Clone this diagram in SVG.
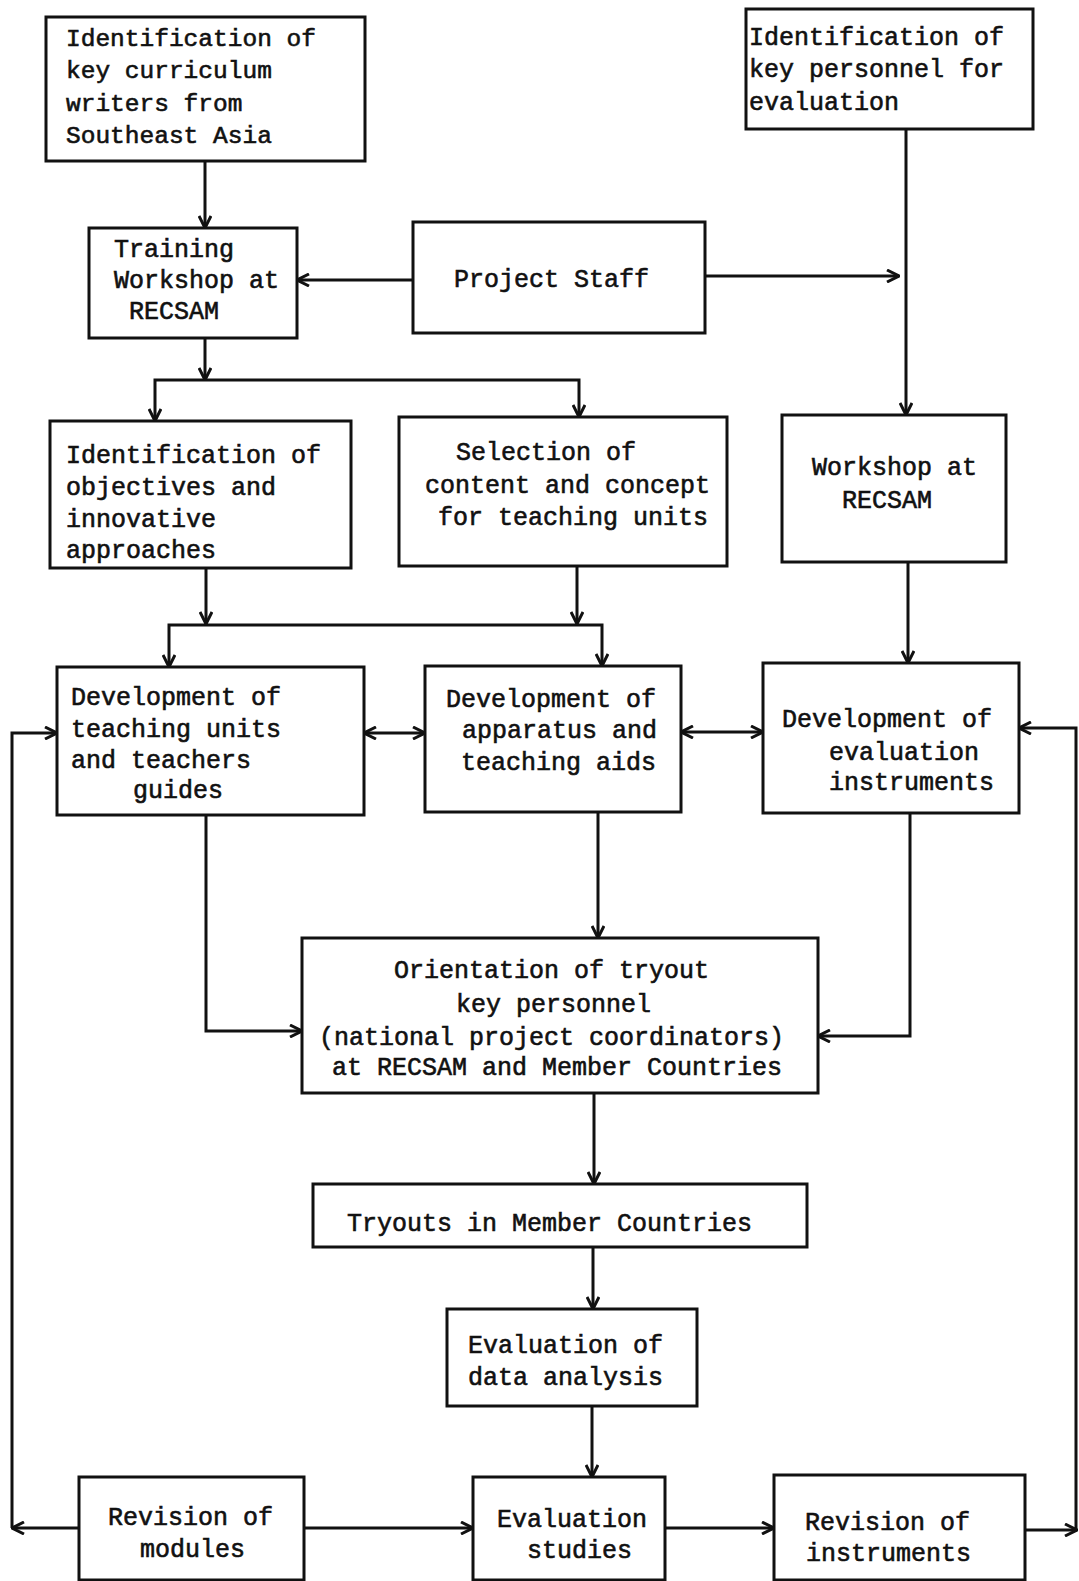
<svg xmlns="http://www.w3.org/2000/svg" width="1079" height="1581" viewBox="0 0 1079 1581">
<style>
.box{fill:#fff;stroke:#111;stroke-width:3}
.t{font-family:"Liberation Mono","DejaVu Sans Mono",monospace;font-size:25px;fill:#111;stroke:#111;stroke-width:0.6}
.c{fill:none;stroke:#111;stroke-width:3}
.a{marker-end:url(#ah)}
.d{marker-start:url(#ah);marker-end:url(#ah)}
</style>
<defs>
<marker id="ah" markerUnits="userSpaceOnUse" viewBox="0 0 14 14" refX="13" refY="7" markerWidth="14" markerHeight="14" orient="auto-start-reverse">
<path d="M1,1 L13,7 L1,13" fill="none" stroke="#111" stroke-width="3"/>
</marker>
</defs>
<rect width="1079" height="1581" fill="#fff"/>
<g id="connectors">
<path class="c a" d="M205,161 V228"/>
<path class="c a" d="M413,280 H297"/>
<path class="c a" d="M705,276 H899"/>
<path class="c a" d="M906,129 V415"/>
<path class="c a" d="M205,338 V380"/>
<path class="c a" d="M205,380 H155 V421"/>
<path class="c a" d="M205,380 H579 V417"/>
<path class="c a" d="M206,568 V624"/>
<path class="c a" d="M577,566 V624"/>
<path class="c a" d="M206,625 H169 V667"/>
<path class="c a" d="M577,625 H602 V666"/>
<path class="c" d="M206,625 H577"/>
<path class="c a" d="M908,562 V663"/>
<path class="c d" d="M364,733 H425"/>
<path class="c d" d="M681,732 H763"/>
<path class="c a" d="M206,815 V1031 H302"/>
<path class="c a" d="M598,812 V938"/>
<path class="c a" d="M910,813 V1036 H818"/>
<path class="c a" d="M594,1093 V1184"/>
<path class="c a" d="M593,1247 V1309"/>
<path class="c a" d="M592,1406 V1477"/>
<path class="c a" d="M304,1528 H473"/>
<path class="c a" d="M665,1528 H774"/>
<path class="c a" d="M79,1528 H12"/>
<path class="c a" d="M12,1528 V733 H57"/>
<path class="c a" d="M1025,1530 H1077"/>
<path class="c a" d="M1076,1530 V728 H1019"/>
</g>
<g id="n1"><rect class="box" x="46" y="17" width="319" height="144"/>
<text class="t" x="66" y="46" style="font-size:24.5px">Identification of</text>
<text class="t" x="66" y="78" style="font-size:24.5px">key curriculum</text>
<text class="t" x="66" y="111" style="font-size:24.5px">writers from</text>
<text class="t" x="66" y="143" style="font-size:24.5px">Southeast Asia</text></g>
<g id="n2"><rect class="box" x="89" y="228" width="208" height="110"/>
<text class="t" x="114" y="257">Training</text>
<text class="t" x="114" y="288">Workshop at</text>
<text class="t" x="129" y="319">RECSAM</text></g>
<g id="n3"><rect class="box" x="413" y="222" width="292" height="111"/>
<text class="t" x="454" y="287">Project Staff</text></g>
<g id="n4"><rect class="box" x="746" y="9" width="287" height="120"/>
<text class="t" x="749" y="45">Identification of</text>
<text class="t" x="749" y="77">key personnel for</text>
<text class="t" x="749" y="110">evaluation</text></g>
<g id="n5"><rect class="box" x="50" y="421" width="301" height="147"/>
<text class="t" x="66" y="463">Identification of</text>
<text class="t" x="66" y="495">objectives and</text>
<text class="t" x="66" y="527">innovative</text>
<text class="t" x="66" y="558">approaches</text></g>
<g id="n6"><rect class="box" x="399" y="417" width="328" height="149"/>
<text class="t" x="456" y="460">Selection of</text>
<text class="t" x="425" y="493">content and concept</text>
<text class="t" x="438" y="525">for teaching units</text></g>
<g id="n7"><rect class="box" x="782" y="415" width="224" height="147"/>
<text class="t" x="812" y="475">Workshop at</text>
<text class="t" x="842" y="508">RECSAM</text></g>
<g id="n8"><rect class="box" x="57" y="667" width="307" height="148"/>
<text class="t" x="71" y="705">Development of</text>
<text class="t" x="71" y="737">teaching units</text>
<text class="t" x="71" y="768">and teachers</text>
<text class="t" x="133" y="798">guides</text></g>
<g id="n9"><rect class="box" x="425" y="666" width="256" height="146"/>
<text class="t" x="446" y="707">Development of</text>
<text class="t" x="462" y="738">apparatus and</text>
<text class="t" x="461" y="770">teaching aids</text></g>
<g id="n10"><rect class="box" x="763" y="663" width="256" height="150"/>
<text class="t" x="782" y="727">Development of</text>
<text class="t" x="829" y="760">evaluation</text>
<text class="t" x="829" y="790">instruments</text></g>
<g id="n11"><rect class="box" x="302" y="938" width="516" height="155"/>
<text class="t" x="394" y="978">Orientation of tryout</text>
<text class="t" x="456" y="1012">key personnel</text>
<text class="t" x="319" y="1045">(national project coordinators)</text>
<text class="t" x="332" y="1075">at RECSAM and Member Countries</text></g>
<g id="n12"><rect class="box" x="313" y="1184" width="494" height="63"/>
<text class="t" x="347" y="1231">Tryouts in Member Countries</text></g>
<g id="n13"><rect class="box" x="447" y="1309" width="250" height="97"/>
<text class="t" x="468" y="1353">Evaluation of</text>
<text class="t" x="468" y="1385">data analysis</text></g>
<g id="n14"><rect class="box" x="473" y="1477" width="192" height="103"/>
<text class="t" x="497" y="1527">Evaluation</text>
<text class="t" x="527" y="1558">studies</text></g>
<g id="n15"><rect class="box" x="79" y="1477" width="225" height="103"/>
<text class="t" x="108" y="1525">Revision of</text>
<text class="t" x="140" y="1557">modules</text></g>
<g id="n16"><rect class="box" x="774" y="1475" width="251" height="105"/>
<text class="t" x="805" y="1530">Revision of</text>
<text class="t" x="806" y="1561">instruments</text></g>
</svg>
